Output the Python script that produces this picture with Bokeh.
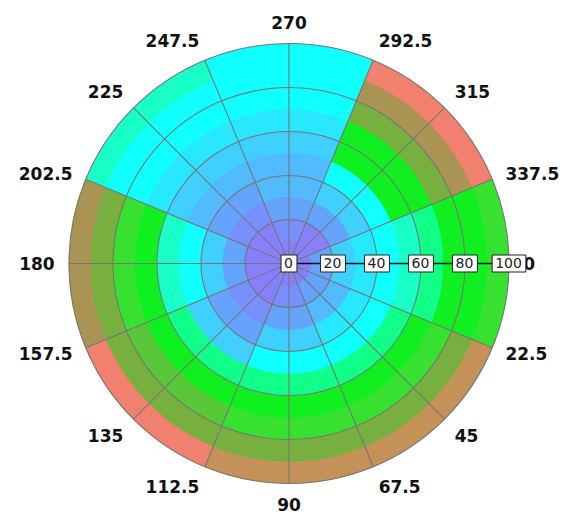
import math
from bokeh.plotting import figure
from bokeh.models import ColumnDataSource, LinearColorMapper
from bokeh.core.properties import value
from bokeh.embed import file_html
from bokeh.resources import INLINE

# ---- data ----
sector_angles = [0, 45, 90, 135, 180, 225, 270, 315]   # degrees, clockwise from east
ring_edges = [0, 10, 20, 30, 40, 50, 60, 70, 80, 90, 100]
levels_0 = [0, 2, 4, 5, 6, 7, 8, 9, 9, 10]
levels_45 = [0, 2, 3, 5, 6, 8, 9, 10, 12, 14]
levels_90 = [0, 1, 2, 4, 6, 8, 9, 10, 12, 14]
levels_135 = [0, 0, 1, 2, 4, 8, 9, 11, 12, 15]
levels_180 = [0, 0, 2, 4, 6, 7, 9, 10, 12, 13]
levels_225 = [0, 0, 1, 2, 3, 4, 5, 6, 6, 7]
levels_270 = [0, 1, 2, 3, 3, 4, 5, 6, 6, 6]
levels_315 = [0, 0, 2, 4, 6, 9, 9, 12, 13, 15]
palette = ["#8680ff", "#7890ff", "#64a4ff", "#52baff", "#40d0ff", "#28e8ff",
           "#10ffff", "#18ffc8", "#10ff88", "#10f020", "#38e030", "#58c838",
           "#78b040", "#aa9454", "#c49258", "#f2806e"]
angle_ticks = [0, 22.5, 45, 67.5, 90, 112.5, 135, 157.5, 180, 202.5, 225,
               247.5, 270, 292.5, 315, 337.5]
angle_labels = ["0", "22.5", "45", "67.5", "90", "112.5", "135", "157.5", "180",
                "202.5", "225", "247.5", "270", "292.5", "315", "337.5"]
radial_ticks = [0, 20, 40, 60, 80, 100]
radial_labels = ["0", "20", "40", "60", "80", "100"]

all_levels = [levels_0, levels_45, levels_90, levels_135,
              levels_180, levels_225, levels_270, levels_315]

# ---- layout ----
W, H = 568, 514
S = 2.2           # px per unit
CX, CY = 288.5, 263.0
p = figure(width=W, height=H, output_backend="svg", toolbar_location=None,
           x_range=(-CX / S, (W - CX) / S), y_range=(-(H - CY) / S, CY / S),
           x_axis_location=None, y_axis_location=None, min_border=0,
           outline_line_color=None, background_fill_color="white",
           border_fill_color="white")
p.grid.visible = False

mapper = LinearColorMapper(palette=palette, low=-0.5, high=len(palette) - 0.5)

# cells: full wedges drawn outer -> inner so no seams appear
rows = []
for ang, lv in zip(sector_angles, all_levels):
    for i in range(len(lv)):
        rows.append((ring_edges[i + 1], ang, lv[i]))
rows.sort(key=lambda t: -t[0])
src = ColumnDataSource(dict(
    r=[t[0] for t in rows],
    a0=[math.radians(-(t[1] + 22.5)) for t in rows],
    a1=[math.radians(-(t[1] - 22.5)) for t in rows],
    lev=[t[2] for t in rows],
))
p.wedge(x=0, y=0, radius="r", start_angle="a0", end_angle="a1",
        direction="anticlock", source=src,
        fill_color={"field": "lev", "transform": mapper},
        line_color={"field": "lev", "transform": mapper}, line_width=0.5)

# grid circles
grid_col = "#767676"
p.circle(x=[0] * 5, y=[0] * 5, radius=radial_ticks[1:], fill_color=None,
         line_color=grid_col, line_width=1.1)
# spokes
rmax = ring_edges[-1]
sp = [a for a in angle_ticks if a != 0]
p.segment(x0=[0] * len(sp), y0=[0] * len(sp),
          x1=[rmax * math.cos(math.radians(a)) for a in sp],
          y1=[-rmax * math.sin(math.radians(a)) for a in sp],
          line_color=grid_col, line_width=1.1)
# radial axis line
p.segment(x0=[0], y0=[0], x1=[rmax], y1=[0], line_color="#111111", line_width=1.3)

# angle labels
lr = 106.5
xs, ys, al, bl = [], [], [], []
for a in angle_ticks:
    c = math.cos(math.radians(a))
    s = math.sin(math.radians(a))
    xs.append(lr * c)
    ys.append(-lr * s)
    al.append("left" if c > 0.1 else ("right" if c < -0.1 else "center"))
    bl.append("top" if s > 0.5 else ("bottom" if s < -0.5 else "middle"))
lsrc = ColumnDataSource(dict(x=xs, y=ys, t=angle_labels, al=al, bl=bl))
p.text(x="x", y="y", text="t", text_align="al", text_baseline="bl", source=lsrc,
       text_font=value("DejaVu Sans"), text_font_style="bold",
       text_font_size="17px", text_color="#111111")

# radial tick labels in boxes
rsrc = ColumnDataSource(dict(x=radial_ticks, y=[0] * len(radial_ticks), t=radial_labels))
p.text(x="x", y="y", text="t", source=rsrc, text_align="center",
       text_baseline="middle", text_font=value("DejaVu Sans"),
       text_font_size="14px", text_color="#222222",
       background_fill_color="white", border_line_color="#222222",
       border_line_width=1, padding=(3, 4, 3, 4))

open("out.html", "w").write(file_html(p, INLINE))
